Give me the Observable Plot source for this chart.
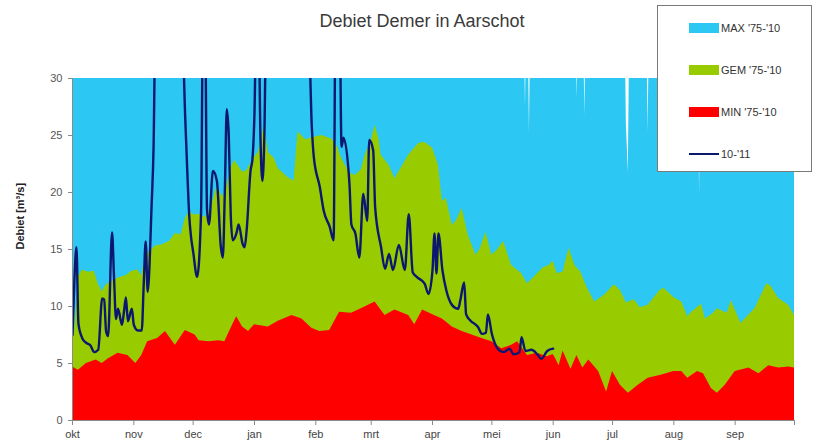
<!DOCTYPE html>
<html>
<head>
<meta charset="utf-8">
<script src="https://cdn.jsdelivr.net/npm/d3@7"></script>
<script src="https://cdn.jsdelivr.net/npm/@observablehq/plot@0.6"></script>
<style>
  body { margin: 0; background: #fff; font-family: "Liberation Sans", Arial, sans-serif; }
  #wrap { position: relative; width: 814px; height: 444px; overflow: hidden; }
  #title { position: absolute; left: 0; width: 844px; top: 11px; text-align: center; font-size: 18px; color: #3a3a3a; }
  #legend { position: absolute; left: 657px; top: 5px; width: 155px; height: 167px; background: #fff; border: 1px solid #7a7a7a; box-sizing: border-box; }
  .li { position: absolute; left: 31px; height: 12px; font-size: 11px; color: #333; display: flex; align-items: center; white-space: nowrap; }
  .sw { width: 30px; height: 10px; margin-right: 2px; }
  .ln { width: 30px; height: 2px; margin-right: 2px; }
</style>
</head>
<body>
<div id="wrap">
  <div id="chart"></div>
  <div id="title"></div>
  <div id="legend"></div>
</div>
<script>
// ---- data (day offset from 1 Oct 2010, discharge m³/s) ----
const title = "Debiet Demer in Aarschot";
const yLabel = "Debiet [m³/s]";
const monthLabels = ["okt","nov","dec","jan","feb","mrt","apr","mei","jun","jul","aug","sep"];
const yTicks = [0, 5, 10, 15, 20, 25, 30];
const seriesNames = ["MAX '75-'10", "GEM '75-'10", "MIN '75-'10", "10-'11"];
const seriesColors = ["#2cc7f2", "#99cc00", "#ff0000", "#0b1870"];

// MAX: mostly above the axis top (clipped), with a few dips visible in summer
const maxSeries = [[0,40],[228,40],[229,27.5],[230,40],[231,25.2],[232,40],[254,40],[255,28.2],[256,40],
  [258,40],[259,26.7],[260,40],[279,40],[280,26],[281,21.7],[282,40],[290,40],[291,25.3],[292,40],
  [316,40],[317,19.8],[318,40],[365,40]];

const gemSeries = [[0,7.3],[1,7.6],[3,12.6],[5,13.2],[8,13.0],[11,13.1],[13,12.0],[15,11.3],[17,11.9],[20,12.2],
  [23,12.5],[27,12.7],[30,13.1],[33,13.2],[35,12.7],[37,14.5],[39,14.8],[42,15.3],[45,15.4],[49,15.7],[52,16.4],
  [55,16.3],[57,17.7],[59,18.3],[62,18.0],[64,18.1],[67,17.8],[70,18.6],[73,20.5],[76,19.6],[78,20.5],[80,22.1],
  [82,22.8],[86,21.8],[88,21.9],[92,23.1],[94,23.5],[97,25.9],[99,23.5],[102,23.0],[104,22.1],[109,21.3],[112,21.0],
  [114,25.3],[118,24.6],[121,24.8],[126,25.0],[131,24.7],[134,24.0],[136,23.0],[140,21.7],[143,21.5],[146,22.0],
  [148,23.3],[151,24.5],[153,25.9],[155,24.6],[156,23.3],[160,22.4],[163,21.2],[167,22.4],[170,23.3],[175,24.3],
  [178,24.4],[182,23.9],[185,22.4],[187,19.2],[189,19.5],[192,17.1],[194,17.5],[197,18.6],[200,16.3],[204,14.5],
  [206,15.0],[209,16.5],[212,14.5],[215,15.0],[218,15.7],[220,14.6],[222,13.6],[227,12.9],[230,12.0],[233,12.5],
  [238,13.4],[241,13.6],[243,14.0],[245,12.9],[248,13.0],[251,15.1],[254,13.6],[257,13.0],[260,11.7],[264,10.4],
  [269,11.0],[274,11.9],[277,11.4],[280,10.3],[284,10.6],[287,9.9],[291,10.1],[297,11.4],[299,11.6],[304,10.8],
  [308,10.4],[311,9.1],[313,9.5],[318,10.2],[320,8.9],[324,9.4],[326,9.8],[331,9.4],[333,10.5],[338,8.5],[340,8.9],
  [345,9.8],[351,12.0],[353,11.8],[357,10.7],[362,10.1],[365,9.2]];

const minSeries = [[0,4.7],[3,4.4],[7,5.0],[12,5.3],[15,5.0],[18,5.4],[23,5.9],[28,5.7],[32,5.0],[35,5.7],[38,6.9],
  [43,7.2],[47,7.8],[52,6.6],[57,7.9],[62,7.5],[64,7.0],[69,6.9],[74,7.0],[77,6.9],[81,8.4],[83,9.1],[86,8.2],
  [89,7.8],[92,8.4],[99,8.2],[104,8.7],[111,9.2],[116,8.9],[121,8.1],[125,7.8],[130,7.9],[135,9.5],[141,9.4],
  [146,9.8],[153,10.4],[158,9.2],[163,9.7],[170,9.2],[173,8.4],[177,9.7],[183,9.2],[187,8.9],[192,8.2],[197,7.8],
  [202,7.5],[207,7.2],[212,6.9],[217,6.3],[222,6.6],[225,6.9],[230,5.7],[235,5.9],[240,5.6],[243,5.8],[244,5.5],
  [246,4.8],[248,6.1],[252,4.5],[255,5.7],[258,4.6],[261,5.3],[266,4.3],[268,3.4],[270,2.5],[273,4.3],[277,3.1],
  [281,2.4],[286,3.1],[291,3.7],[298,4.0],[304,4.3],[308,4.3],[311,3.7],[316,4.3],[319,4.1],[323,2.8],[326,2.4],
  [330,3.1],[335,4.3],[342,4.6],[347,4.1],[352,4.8],[357,4.6],[362,4.7],[365,4.6]];

const lineSeries = [[0,7.5],[1,12.5],[2,15.2],[3,8.5],[5,7.2],[7,6.8],[9,6.6],[11,6.0],[13,6.2],[15,10.7],[16,10.6],
  [17,7.8],[18,7.4],[20,16.5],[21,12.5],[22,8.9],[23,9.8],[25,8.4],[26,9.5],[27,10.8],[28,8.7],[30,9.8],[31,8.4],
  [33,7.9],[35,7.9],[36,11.9],[37,15.7],[38,11.3],[40,18.9],[41,24.1],[42,36],[55,36],[57,26.5],[58,22],[59,18],
  [60,16],[61,14.8],[63,12.6],[65,18.3],[66,36],[67,36],[68,18.5],[69,17.2],[71,21.9],[73,21.0],[75,15.2],[76,14.3],
  [77,20],[78,27.3],[79,25],[80,18],[81,15.8],[83,16.5],[84,17.2],[86,15.5],[87,15.2],[88,16.6],[90,21.9],[91,23.0],
  [92,27],[93,36],[94,36],[95,25],[96,21.0],[97,25],[98,36],[119,36],[121,25.7],[122,23.1],[125,20.5],[127,18.4],
  [130,17.0],[132,15.8],[133,36],[135,36],[136,24.0],[137,24.8],[140,20.8],[141,17.2],[143,16.4],[145,14.3],
  [147,19.9],[149,17.5],[150,24.6],[152,23.7],[153,18.7],[156,15.2],[158,13.3],[160,14.6],[162,13.2],[165,15.4],
  [168,13.2],[170,18.1],[172,13.0],[174,12.6],[178,12.0],[180,11.1],[182,13.2],[183,16.4],[184,12.9],[185,16.4],
  [187,13.2],[189,11.4],[192,10.1],[195,9.8],[196,10.5],[198,12.1],[199,9.3],[201,8.8],[205,8.2],[207,7.6],
  [209,7.7],[210,9.3],[212,7.6],[215,6.3],[218,6.0],[221,6.3],[223,5.8],[226,6.0],[227,7.3],[229,6.1],[232,6.2],
  [235,5.8],[237,5.4],[240,6.1],[243,6.3]];

// ---- build ----
const start = new Date(Date.UTC(2010, 9, 1));
const end = new Date(Date.UTC(2011, 9, 1));
const toRows = s => s.map(([d, v]) => ({date: d3.utcDay.offset(start, d), v}));
const monthTicks = d3.utcMonth.range(start, d3.utcDay.offset(end, 1));

const chart = Plot.plot({
  width: 814,
  height: 444,
  marginLeft: 72,
  marginRight: 20,
  marginTop: 78,
  marginBottom: 24,
  style: {fontFamily: "'Liberation Sans', Arial, sans-serif", fontSize: "11px", color: "#444", background: "transparent"},
  x: {type: "utc", domain: [start, end]},
  y: {domain: [0, 30]},
  marks: [
    Plot.areaY(toRows(maxSeries), {x: "date", y: "v", fill: seriesColors[0], clip: true}),
    Plot.areaY(toRows(gemSeries), {x: "date", y: "v", fill: seriesColors[1], clip: true}),
    Plot.areaY(toRows(minSeries), {x: "date", y: "v", fill: seriesColors[2], clip: true}),
    Plot.line(toRows(lineSeries), {x: "date", y: "v", stroke: seriesColors[3], strokeWidth: 2.4, curve: "monotone-x", clip: true}),
    Plot.ruleY([0], {stroke: "#8a8a8a"}),
    Plot.ruleX([start], {stroke: "#8a8a8a"}),
    Plot.axisY({ticks: yTicks, tickSize: 4, tickPadding: 6, label: null, stroke: "#8a8a8a", fill: "#555"}),
    Plot.axisX({ticks: monthTicks, tickSize: 5, tickPadding: 5, label: null, stroke: "#8a8a8a", fill: "#444",
      tickFormat: d => (+d >= +end ? "" : monthLabels[(d.getUTCMonth() + 3) % 12])}),
    Plot.text([yLabel], {frameAnchor: "left", dx: -52, rotate: -90, fontWeight: "bold", fontSize: 11, fill: "#222"})
  ]
});
document.getElementById("chart").append(chart);
document.getElementById("title").textContent = title;

const legend = document.getElementById("legend");
const legendY = [16, 58, 100, 142];
seriesNames.forEach((name, i) => {
  const item = document.createElement("div");
  item.className = "li";
  item.style.top = legendY[i] + "px";
  const sw = document.createElement("div");
  sw.className = i === 3 ? "ln" : "sw";
  sw.style.background = seriesColors[i];
  item.append(sw, document.createTextNode(name));
  legend.append(item);
});
</script>
</body>
</html>
